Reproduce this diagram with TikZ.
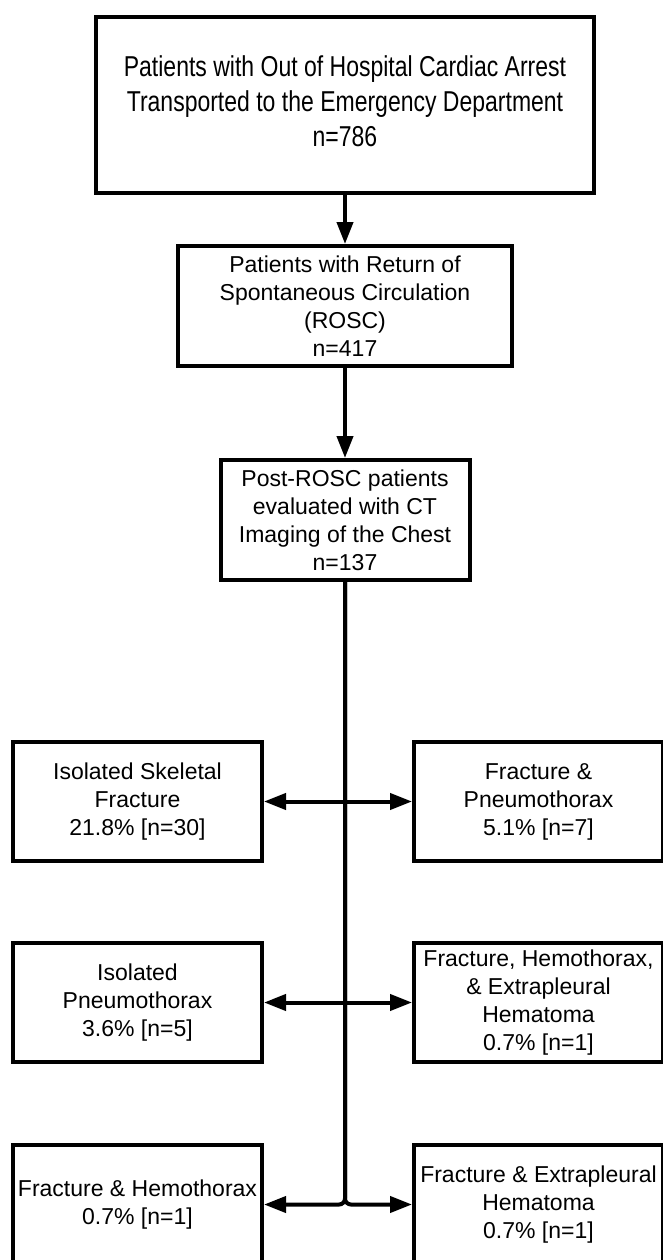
\documentclass[tikz,border=0pt]{standalone}
\usepackage{fontspec}
\setmainfont{Liberation Sans}
\usetikzlibrary{arrows.meta}
\newcommand{\tallstack}[1]{\scalebox{1}[1.25]{\begin{tabular}{@{}c@{}}#1\end{tabular}}}

\begin{document}
\begin{tikzpicture}[x=1pt, y=-1pt, >={Triangle[length=22pt, width=16pt]}, line width=4pt,
		box/.style={draw, line width=4pt, align=center, inner sep=0pt, font=\fontsize{23}{28}\selectfont},
		sidebox/.style={box, minimum width=249pt, minimum height=119pt}]
	\useasboundingbox (0,0) rectangle (662,1260);

	\node[box, minimum width=498pt, minimum height=176pt] (ohca) at (345,105) {\tallstack{Patients with Out of Hospital Cardiac Arrest\\Transported to the Emergency Department\\n=786}};
	\node[box, minimum width=334pt, minimum height=120pt] (rosc) at (345,306) {Patients with Return of\\Spontaneous Circulation\\(ROSC)\\n=417};
	\node[box, minimum width=249pt, minimum height=120pt] (ct) at (345,520) {Post-ROSC patients\\evaluated with CT\\Imaging of the Chest\\n=137};

	\node[sidebox] (skel) at (137.5,801.5) {Isolated Skeletal\\Fracture\\21.8\% [n=30]};
	\node[sidebox] (fxptx) at (538.5,801.5) {Fracture \&\\Pneumothorax\\5.1\% [n=7]};
	\node[sidebox] (ptx) at (137.5,1002.5) {Isolated\\Pneumothorax\\3.6\% [n=5]};
	\node[sidebox] (fxhtxeph) at (538.5,1002.5) {Fracture, Hemothorax,\\\& Extrapleural\\Hematoma\\0.7\% [n=1]};
	\node[sidebox] (fxhtx) at (137.5,1204.5) {Fracture \& Hemothorax\\0.7\% [n=1]};
	\node[sidebox] (fxeph) at (538.5,1204.5) {Fracture \& Extrapleural\\Hematoma\\0.7\% [n=1]};

	\draw[->] (ohca) -- (rosc);
	\draw[->] (rosc) -- (ct);
	\draw[->, rounded corners=6pt] (ct.south) |- (fxhtx.east);
	\draw[->, rounded corners=6pt] (ct.south) |- (fxeph.west);
	\draw[<->] (skel.east) -- (fxptx.west);
	\draw[<->] (ptx.east) -- (fxhtxeph.west);
\end{tikzpicture}
\end{document}
